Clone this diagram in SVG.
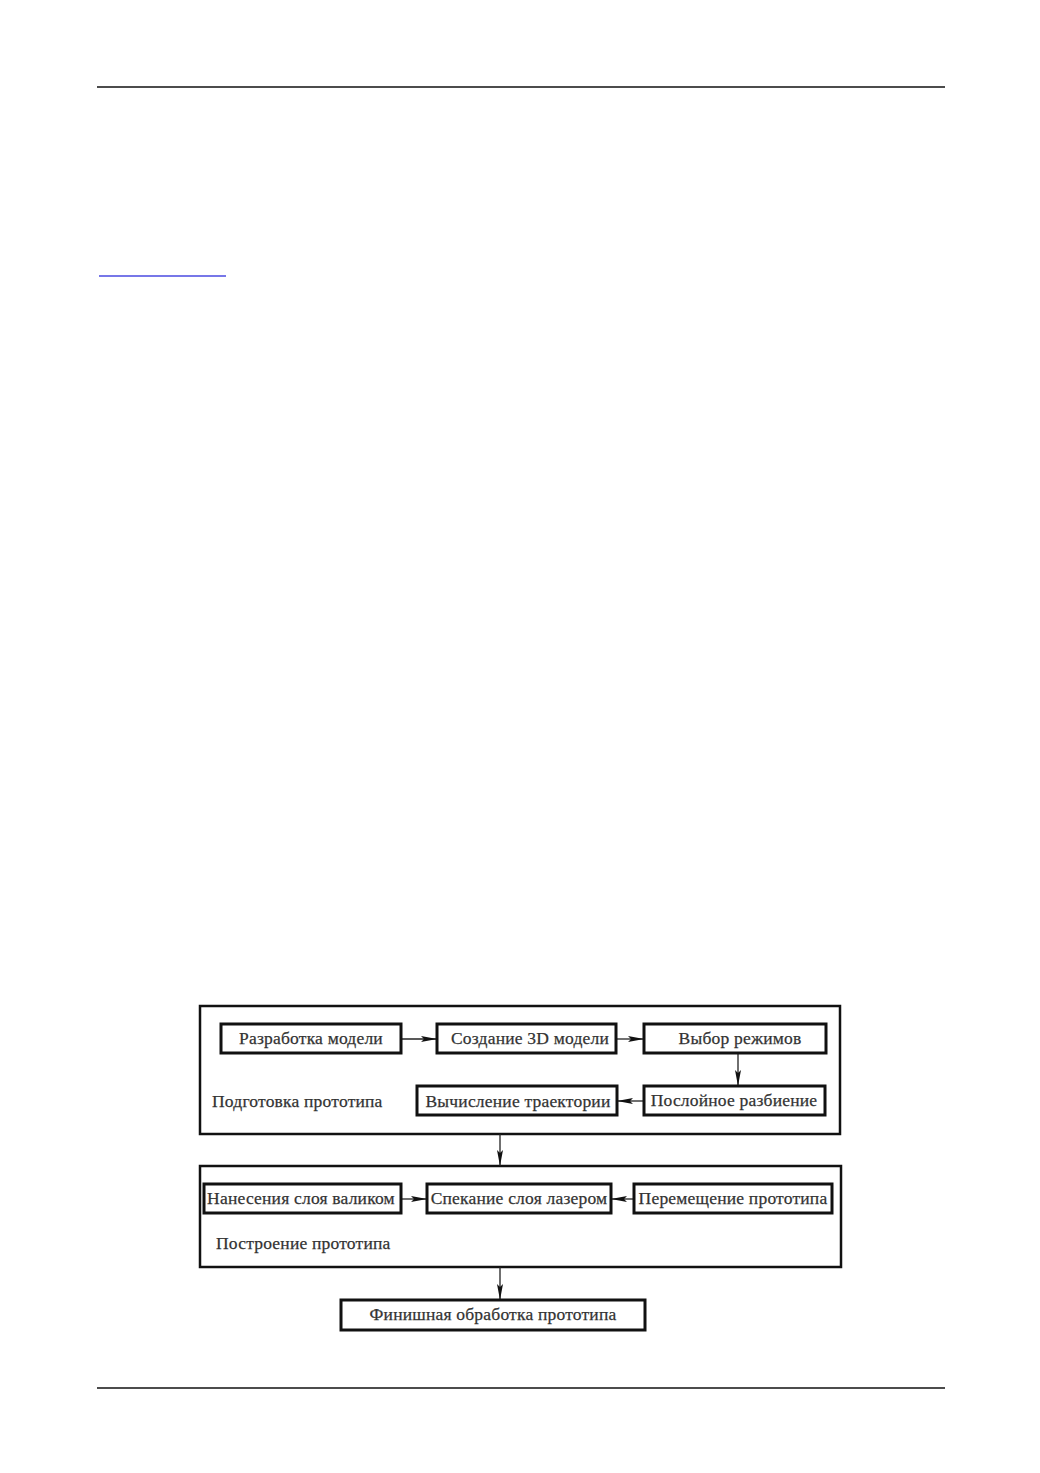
<svg xmlns="http://www.w3.org/2000/svg" width="1040" height="1473" viewBox="0 0 1040 1473">
<style>
.bx{fill:#fff;stroke:#111;stroke-width:3}
.ob{fill:#fff;stroke:#111;stroke-width:2.5}
.t{font-family:"Liberation Serif","DejaVu Serif",serif;font-size:17.5px;fill:#333;stroke:#333;stroke-width:0.25;letter-spacing:0.2px}
.c{stroke:#222;stroke-width:1.3;fill:none;marker-end:url(#ah)}
</style>
<defs>
<marker id="ah" markerWidth="18" markerHeight="10" refX="16" refY="5" orient="auto" markerUnits="userSpaceOnUse">
<path d="M0,2 L16,5 L0,8 L3,5 z" fill="#111"/>
</marker>
</defs>
<rect width="1040" height="1473" fill="#fff"/>
<line x1="97" y1="87" x2="945" y2="87" stroke="#111" stroke-width="1.5"/>
<line x1="99" y1="276" x2="226" y2="276" stroke="#4a4ae0" stroke-width="1.5"/>
<line x1="97" y1="1388" x2="945" y2="1388" stroke="#111" stroke-width="1.5"/>

<g id="prep-group">
<rect class="ob" x="200" y="1006" width="640" height="128"/>
<text class="t" x="212" y="1107">Подготовка прототипа</text>
</g>
<g id="build-group">
<rect class="ob" x="200" y="1166" width="641" height="101"/>
<text class="t" x="216" y="1249">Построение прототипа</text>
</g>

<g id="connectors">
<line class="c" x1="401" y1="1039" x2="437" y2="1039"/>
<line class="c" x1="616" y1="1039" x2="644" y2="1039"/>
<line class="c" x1="738" y1="1053" x2="738" y2="1086"/>
<line class="c" x1="644" y1="1101" x2="617" y2="1101"/>
<line class="c" x1="500" y1="1134" x2="500" y2="1166"/>
<line class="c" x1="401" y1="1199" x2="427" y2="1199"/>
<line class="c" x1="634" y1="1199" x2="611" y2="1199"/>
<line class="c" x1="500" y1="1267" x2="500" y2="1300"/>
</g>

<g id="n1"><rect class="bx" x="221" y="1024" width="180" height="29"/><text class="t" x="311" y="1044" text-anchor="middle">Разработка модели</text></g>
<g id="n2"><rect class="bx" x="437" y="1024" width="179" height="29"/><text class="t" x="530" y="1044" text-anchor="middle">Создание 3D модели</text></g>
<g id="n3"><rect class="bx" x="644" y="1024" width="182" height="29"/><text class="t" x="740" y="1044" text-anchor="middle">Выбор режимов</text></g>
<g id="n4"><rect class="bx" x="644" y="1086" width="181" height="29"/><text class="t" x="734" y="1106" text-anchor="middle">Послойное разбиение</text></g>
<g id="n5"><rect class="bx" x="417" y="1086" width="200" height="29"/><text class="t" x="518" y="1107" text-anchor="middle">Вычисление траектории</text></g>
<g id="n6"><rect class="bx" x="204" y="1184" width="197" height="29"/><text class="t" x="301" y="1204" text-anchor="middle">Нанесения слоя валиком</text></g>
<g id="n7"><rect class="bx" x="427" y="1184" width="184" height="29"/><text class="t" x="519" y="1204" text-anchor="middle">Спекание слоя лазером</text></g>
<g id="n8"><rect class="bx" x="634" y="1184" width="198" height="29"/><text class="t" x="733" y="1204" text-anchor="middle">Перемещение прототипа</text></g>
<g id="n9"><rect class="bx" x="341" y="1300" width="304" height="30"/><text class="t" x="493" y="1320" text-anchor="middle">Финишная обработка прототипа</text></g>
</svg>
